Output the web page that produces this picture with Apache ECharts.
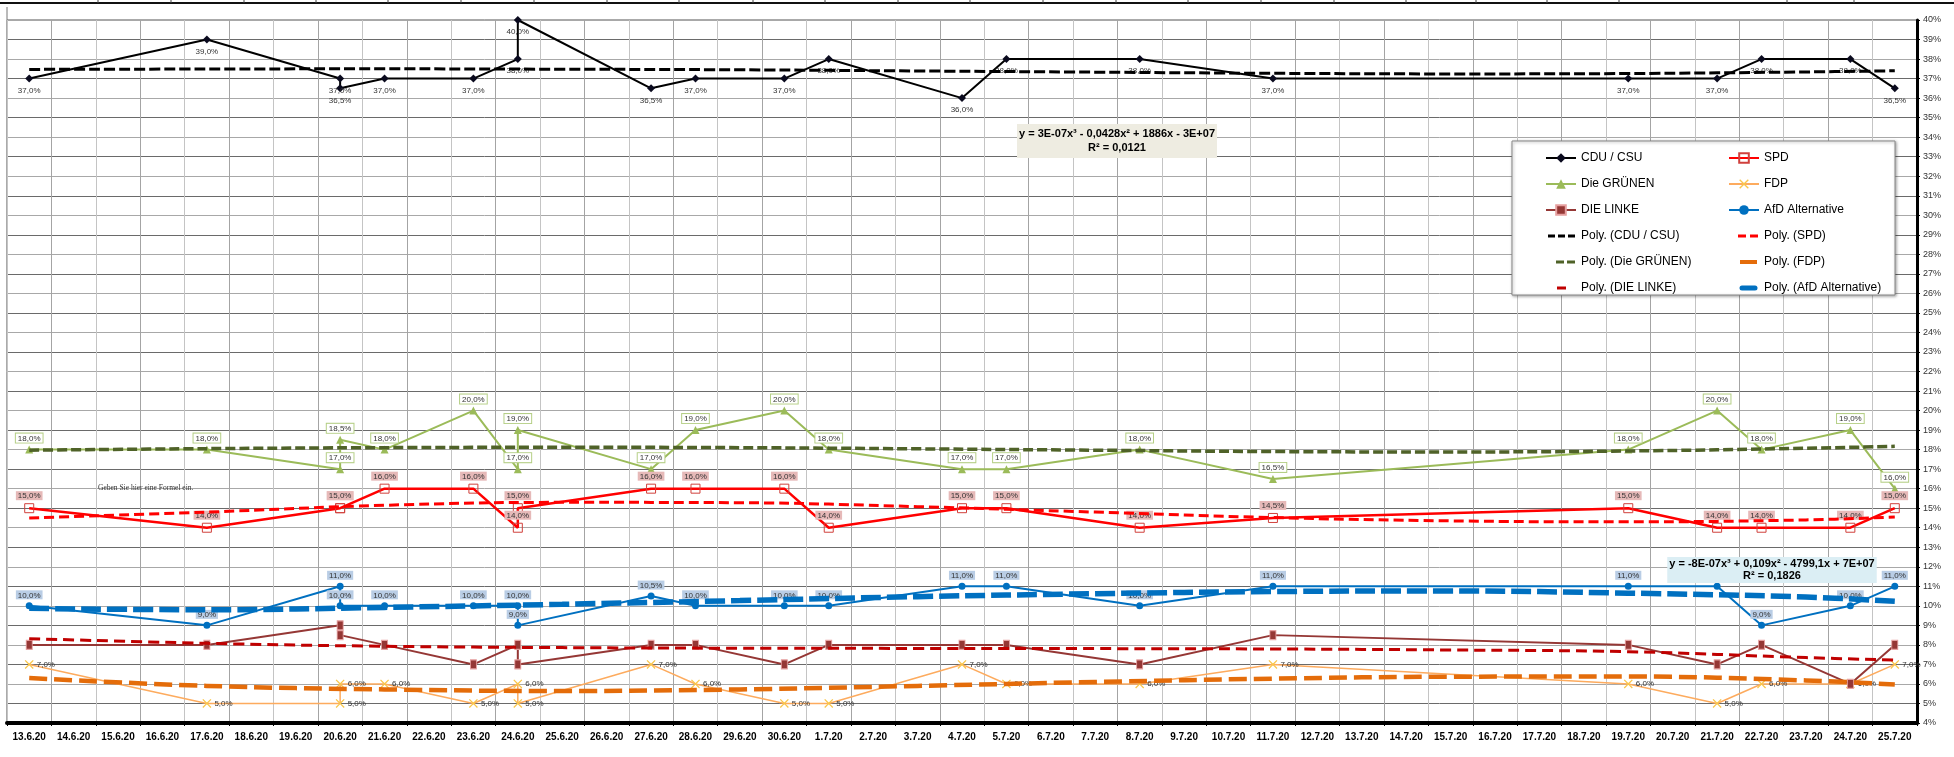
<!DOCTYPE html>
<html>
<head>
<meta charset="utf-8">
<script src="https://cdn.jsdelivr.net/npm/echarts@6/dist/echarts.min.js"></script>
<style>
html,body{margin:0;padding:0;background:#fff;}
#chart{width:1954px;height:757px;}
</style>
</head>
<body>
<div id="chart"></div>
<script>
// ---- data ----
const dates = ['13.6.20','14.6.20','15.6.20','16.6.20','17.6.20','18.6.20','19.6.20','20.6.20','21.6.20','22.6.20','23.6.20','24.6.20','25.6.20','26.6.20','27.6.20','28.6.20','29.6.20','30.6.20','1.7.20','2.7.20','3.7.20','4.7.20','5.7.20','6.7.20','7.7.20','8.7.20','9.7.20','10.7.20','11.7.20','12.7.20','13.7.20','14.7.20','15.7.20','16.7.20','17.7.20','18.7.20','19.7.20','20.7.20','21.7.20','22.7.20','23.7.20','24.7.20','25.7.20'];
const pollDates = ['13.6.20','17.6.20','20.6.20','20.6.20','21.6.20','23.6.20','24.6.20','24.6.20','27.6.20','28.6.20','30.6.20','1.7.20','4.7.20','5.7.20','8.7.20','11.7.20','19.7.20','21.7.20','22.7.20','24.7.20','25.7.20'];
const cdu   = [37, 39, 37, 36.5, 37, 37, 38, 40, 36.5, 37, 37, 38, 36, 38, 38, 37, 37, 37, 38, 38, 36.5];
const spd   = [15, 14, 15, 15, 16, 16, 14, 15, 16, 16, 16, 14, 15, 15, 14, 14.5, 15, 14, 14, 14, 15];
const gruen = [18, 18, 17, 18.5, 18, 20, 17, 19, 17, 19, 20, 18, 17, 17, 18, 16.5, 18, 20, 18, 19, 16];
const fdp   = [7, 5, 5, 6, 6, 5, 6, 5, 7, 6, 5, 5, 7, 6, 6, 7, 6, 5, 6, 6, 7];
const linke = [8, 8, 9, 8.5, 8, 7, 8, 7, 8, 8, 7, 8, 8, 8, 7, 8.5, 8, 7, 8, 6, 8];
const afd   = [10, 9, 11, 10, 10, 10, 10, 9, 10.5, 10, 10, 10, 11, 11, 10, 11, 11, 11, 9, 10, 11];

const trendDates = ['13.6.20','17.6.20','21.6.20','25.6.20','29.6.20','3.7.20','7.7.20','11.7.20','15.7.20','19.7.20','23.7.20','25.7.20'];
const cduTrend   = [37.47, 37.49, 37.5, 37.48, 37.45, 37.39, 37.33, 37.27, 37.24, 37.26, 37.34, 37.4];
const spdTrend   = [14.5, 14.8, 15.15, 15.3, 15.28, 15.08, 14.8, 14.52, 14.35, 14.3, 14.4, 14.55];
const gruenTrend = [17.97, 18.05, 18.1, 18.12, 18.1, 18.04, 17.97, 17.9, 17.88, 17.93, 18.07, 18.17];
const fdpTrend   = [6.3, 5.9, 5.72, 5.64, 5.72, 5.9, 6.1, 6.27, 6.37, 6.38, 6.18, 5.97];
const linkeTrend = [8.32, 8.08, 7.93, 7.86, 7.83, 7.82, 7.81, 7.79, 7.74, 7.65, 7.35, 7.22];
const afdTrend   = [9.87, 9.8, 9.92, 10.08, 10.27, 10.47, 10.62, 10.73, 10.76, 10.65, 10.45, 10.23];

const eqCdu = 'y = 3E-07x³ - 0,0428x² + 1886x - 3E+07\nR² = 0,0121';
const eqAfd = 'y = -8E-07x³ + 0,109x² - 4799,1x + 7E+07\nR² = 0,1826';

// ---- helpers ----
const FONT = 'Liberation Sans, Arial, sans-serif';
const pair = (xs, ys) => ys.map((v, i) => [xs[i], v]);
const fmt = p => p.value[1].toFixed(1).replace('.', ',') + '%';
const X_PATH = 'path://M1,0L5,4L9,0L10,1L6,5L10,9L9,10L5,6L1,10L0,9L4,5L0,1Z';
// legend icons for trend lines (bounding box fixed to 30x12 by the two moveTo points)
const BOX = 'path://M0,0M30,12';
const ICON_CDU   = BOX + 'M2,4.5H9V7.5H2ZM12,4.5H19V7.5H12ZM22,4.5H29V7.5H22Z';
const ICON_SPD   = BOX + 'M9,4.5H17V7.5H9ZM21,4.5H29V7.5H21Z';
const ICON_GRUEN = BOX + 'M10,4.5H18V7.5H10ZM21,4.5H29V7.5H21Z';
const ICON_FDP   = BOX + 'M11,4H28V8H11Z';
const ICON_LINKE = BOX + 'M11,4.5H20V7.5H11Z';
const ICON_AFD   = BOX + 'M13,3.5H26A2.5,2.5 0 0 1 26,8.5H13A2.5,2.5 0 0 1 13,3.5Z';

function dataSeries(name, vals, o) {
  return Object.assign({
    name, type: 'line', data: pair(pollDates, vals), z: 2,
    symbolSize: 8, showSymbol: true
  }, o);
}
function trendSeries(name, vals, color, width, dash) {
  return {
    name, type: 'line', data: pair(trendDates, vals), smooth: 0.4,
    symbol: 'none', z: 3,
    lineStyle: { color, width, type: dash },
    itemStyle: { color }
  };
}
const lbl = (pos, extra) => Object.assign({
  show: true, position: pos, formatter: fmt, fontSize: 8, color: '#333', fontFamily: FONT
}, extra);

const chart = echarts.init(document.getElementById('chart'), null, { renderer: 'canvas' });

const topTicks = [98,171,244,316,388,461,534,607,679,753,825,898,970,1043,1116,1188,1261,1334,1406,1476,1547,1619,1787,1854];
const graphic = [
  { type: 'line', shape: { x1: 0, y1: 3, x2: 1954, y2: 3 }, style: { stroke: '#111', lineWidth: 2 }, z: 1 },
  { type: 'line', shape: { x1: 7, y1: 7, x2: 7, y2: 20 }, style: { stroke: '#777', lineWidth: 1 }, z: 1 }
].concat(topTicks.map(x => ({ type: 'line', shape: { x1: x, y1: 0, x2: x, y2: 3 }, style: { stroke: '#444', lineWidth: 1 }, z: 1 })));
graphic.push({
  type: 'rect', shape: { x: 1512, y: 141, width: 383, height: 154 },
  style: { fill: '#fff', stroke: '#888', lineWidth: 1, shadowBlur: 3, shadowColor: 'rgba(0,0,0,0.35)', shadowOffsetX: 1, shadowOffsetY: 1 },
  z: 5
});
graphic.push({
  type: 'text', x: 1117, y: 141, z: 20,
  style: { text: eqCdu, font: 'bold 11px ' + FONT, fill: '#000', align: 'center', verticalAlign: 'middle',
           backgroundColor: '#eeece1', padding: [3, 2, 3, 2], lineHeight: 14 }
});
graphic.push({
  type: 'text', x: 1772, y: 570, z: 20,
  style: { text: eqAfd, font: 'bold 11px ' + FONT, fill: '#000', align: 'center', verticalAlign: 'middle',
           backgroundColor: '#dbeef4', padding: [1, 2, 1, 2], lineHeight: 12 }
});
graphic.push({
  type: 'text', x: 98, y: 488, z: 20,
  style: { text: 'Geben Sie hier eine Formel ein.', font: '7.5px Liberation Serif, serif', fill: '#333', verticalAlign: 'middle' }
});

const legendCommon = {
  orient: 'vertical', itemWidth: 30, itemHeight: 12, itemGap: 12, z: 10,
  textStyle: { fontSize: 12, color: '#000', fontFamily: FONT, lineHeight: 14 },
  selectedMode: false
};

chart.setOption({
  animation: false,
  backgroundColor: '#fff',
  textStyle: { fontFamily: FONT },
  graphic,
  legend: [
    Object.assign({}, legendCommon, { left: 1540, top: 146,
      data: ['CDU / CSU', 'Die GRÜNEN', 'DIE LINKE',
        { name: 'Poly. (CDU / CSU)', icon: ICON_CDU },
        { name: 'Poly. (Die GRÜNEN)', icon: ICON_GRUEN },
        { name: 'Poly. (DIE LINKE)', icon: ICON_LINKE }] }),
    Object.assign({}, legendCommon, { left: 1723, top: 146,
      data: ['SPD', 'FDP', 'AfD Alternative',
        { name: 'Poly. (SPD)', icon: ICON_SPD },
        { name: 'Poly. (FDP)', icon: ICON_FDP },
        { name: 'Poly. (AfD Alternative)', icon: ICON_AFD }] })
  ],
  grid: { left: 7, right: 37, top: 20, bottom: 34, show: true, borderColor: '#555', borderWidth: 1 },
  xAxis: {
    type: 'category', data: dates, boundaryGap: true,
    axisLine: { lineStyle: { color: '#000', width: 4 } },
    axisTick: { show: true, length: 3, lineStyle: { color: '#000' } },
    axisLabel: { interval: 0, fontSize: 10, fontWeight: 'bold', color: '#000', margin: 9, fontFamily: FONT },
    splitLine: { show: true, interval: 0, lineStyle: { color: ['#c4c4c4', '#a4a4a4'], width: 1 } }
  },
  yAxis: {
    type: 'value', position: 'right', min: 4, max: 40, interval: 1,
    axisLine: { show: true, lineStyle: { color: '#000', width: 3 } },
    axisTick: { show: true, length: 3, lineStyle: { color: '#000' } },
    axisLabel: { formatter: '{value}%', fontSize: 9, color: '#333', margin: 6, fontFamily: FONT },
    splitLine: { show: true, lineStyle: { color: ['#a8a8a8', '#6a6a6a'], width: 1 } }
  },
  series: [
    dataSeries('CDU / CSU', cdu, {
      symbol: 'diamond', symbolSize: 8,
      lineStyle: { color: '#000', width: 2 }, itemStyle: { color: '#0a0a1e' },
      label: lbl('bottom', { distance: 4 })
    }),
    dataSeries('SPD', spd, {
      symbol: 'rect', symbolSize: 9,
      lineStyle: { color: '#ff0000', width: 2.5 },
      itemStyle: { color: 'rgba(255,255,255,0)', borderColor: '#d0403c', borderWidth: 1 },
      label: lbl('top', { distance: 3, backgroundColor: '#e6b9b8', padding: [1, 2, 0, 2] })
    }),
    dataSeries('Die GRÜNEN', gruen, {
      symbol: 'triangle', symbolSize: 8,
      lineStyle: { color: '#9bbb59', width: 2 }, itemStyle: { color: '#9bbb59' },
      label: lbl('top', { distance: 3, backgroundColor: '#fff', borderColor: '#b5cf86', borderWidth: 1, padding: [1, 2, 0, 2] })
    }),
    dataSeries('FDP', fdp, {
      symbol: X_PATH, symbolSize: 9,
      lineStyle: { color: '#fdab5e', width: 1.5 }, itemStyle: { color: '#f9c64a' },
      label: lbl('right', { distance: 3 })
    }),
    dataSeries('DIE LINKE', linke, {
      symbol: 'rect', symbolSize: [6, 9],
      lineStyle: { color: '#953735', width: 2 },
      itemStyle: { color: '#953735', borderColor: '#e6a0a0', borderWidth: 1 }
    }),
    dataSeries('AfD Alternative', afd, {
      symbol: 'circle', symbolSize: 7,
      lineStyle: { color: '#0070c0', width: 2 }, itemStyle: { color: '#0070c0' },
      label: lbl('top', { distance: 3, backgroundColor: '#b9cde5', padding: [1, 2, 0, 2] })
    }),
    trendSeries('Poly. (CDU / CSU)', cduTrend, '#000', 3, [11, 4]),
    trendSeries('Poly. (SPD)', spdTrend, '#ff0000', 3, [10, 5]),
    trendSeries('Poly. (Die GRÜNEN)', gruenTrend, '#4f6228', 3.5, [10, 4]),
    trendSeries('Poly. (FDP)', fdpTrend, '#e46c0a', 4.5, [18, 7]),
    trendSeries('Poly. (DIE LINKE)', linkeTrend, '#c00000', 3, [11, 6]),
    trendSeries('Poly. (AfD Alternative)', afdTrend, '#0070c0', 5.5, [20, 6])
  ]
});
</script>
</body>
</html>
